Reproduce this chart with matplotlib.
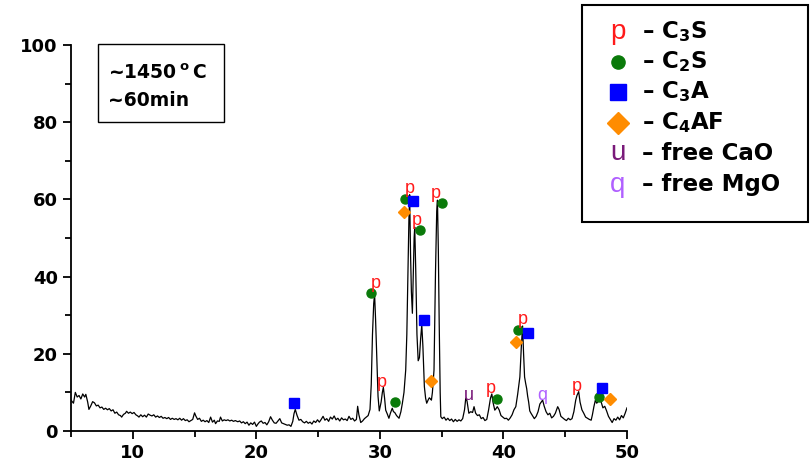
import matplotlib
matplotlib.use("Agg")
import matplotlib.pyplot as plt
from matplotlib.patches import Rectangle
from matplotlib.lines import Line2D
from matplotlib.ticker import MultipleLocator

plt.rcParams['font.family'] = ['DejaVu Sans']
plt.rcParams['mathtext.fontset'] = 'custom'
plt.rcParams['mathtext.rm'] = 'DejaVu Sans:bold'
plt.rcParams['mathtext.it'] = 'DejaVu Sans:bold'
plt.rcParams['mathtext.bf'] = 'DejaVu Sans:bold'

# --- XRD pattern (2-theta, intensity) ---
two_theta = [
    5.0, 5.2, 5.35, 5.5, 5.65, 5.8, 5.95, 6.1, 6.2, 6.35, 6.45, 6.6, 6.75, 6.9,
    7.05, 7.2, 7.35, 7.5, 7.65, 7.8, 7.95, 8.1, 8.25, 8.4, 8.55, 8.7, 8.85, 9.0,
    9.1, 9.25, 9.4, 9.5, 9.65, 9.8, 9.95, 10.1, 10.25, 10.4, 10.5, 10.65, 10.8,
    10.95, 11.1, 11.25, 11.4, 11.55, 11.7, 11.85, 12.0, 12.15, 12.3, 12.45, 12.6,
    12.75, 12.9, 13.05, 13.2, 13.35, 13.5, 13.65, 13.8, 13.95, 14.1, 14.25, 14.4,
    14.55, 14.7, 14.85, 15.0, 15.1, 15.25, 15.4, 15.55, 15.7, 15.85, 16.0, 16.15,
    16.3, 16.45, 16.6, 16.7, 16.85, 17.0, 17.1, 17.25, 17.4, 17.55, 17.7, 17.85,
    18.0, 18.15, 18.3, 18.5, 18.65, 18.8, 18.95, 19.1, 19.25, 19.4, 19.55, 19.7,
    19.85, 20.0, 20.1, 20.25, 20.4, 20.55, 20.7, 20.85, 21.0, 21.15, 21.3, 21.45,
    21.6, 21.75, 21.9, 22.05, 22.2, 22.35, 22.5, 22.65, 22.8, 22.95, 23.05, 23.15,
    23.3, 23.45, 23.6, 23.75, 23.9, 24.05, 24.2, 24.35, 24.5, 24.65, 24.8, 24.95,
    25.1, 25.25, 25.4, 25.55, 25.7, 25.85, 26.0, 26.15, 26.3, 26.45, 26.6, 26.75,
    26.9, 27.05, 27.2, 27.35, 27.5, 27.65, 27.8, 27.95, 28.1, 28.2, 28.3, 28.45,
    28.6, 28.75, 28.9, 29.05, 29.2, 29.3, 29.4, 29.5, 29.57, 29.65, 29.75, 29.85,
    29.95, 30.1, 30.2, 30.28, 30.38, 30.47, 30.6, 30.73, 30.85, 31.0, 31.1, 31.2,
    31.35, 31.55, 31.7, 31.82, 31.95, 32.09, 32.18, 32.27, 32.35, 32.41, 32.48,
    32.55, 32.63, 32.7, 32.77, 32.82, 32.9, 33.0, 33.1, 33.2, 33.3, 33.39, 33.48,
    33.6, 33.7, 33.79, 33.9, 34.0, 34.1, 34.17, 34.25, 34.38, 34.5, 34.6, 34.66,
    34.73, 34.8, 34.88, 34.93, 35.05, 35.2, 35.35, 35.5, 35.65, 35.8, 35.95, 36.1,
    36.25, 36.4, 36.55, 36.7, 36.85, 36.95, 37.05, 37.2, 37.35, 37.5, 37.62, 37.75,
    37.9, 38.05, 38.2, 38.35, 38.5, 38.65, 38.8, 38.95, 39.06, 39.15, 39.3, 39.4,
    39.5, 39.65, 39.8, 39.95, 40.1, 40.25, 40.4, 40.55, 40.7, 40.85, 41.0, 41.15,
    41.33, 41.45, 41.55, 41.63, 41.71, 41.8, 41.88, 41.96, 42.04, 42.13, 42.23,
    42.35, 42.5, 42.65, 42.8, 42.95, 43.08, 43.17, 43.3, 43.45, 43.6, 43.75, 43.9,
    44.05, 44.2, 44.39, 44.5, 44.65, 44.8, 44.95, 45.1, 45.25, 45.4, 45.55, 45.7,
    45.85, 45.95, 46.09, 46.2, 46.35, 46.5, 46.65, 46.8, 46.95, 47.1, 47.2, 47.32,
    47.44, 47.55, 47.7, 47.9, 48.05, 48.2, 48.35, 48.5, 48.65, 48.8, 48.95, 49.1,
    49.25, 49.4, 49.55, 49.7, 49.85, 50.0,
]
intensity = [
    8.0, 7.2, 10.0, 8.8, 9.2, 8.3, 9.6, 8.8, 9.5, 7.5, 5.6, 6.5, 7.6, 7.3,
    6.5, 6.7, 6.0, 6.2, 5.6, 5.9, 5.5, 5.8, 5.2, 5.5, 4.6, 4.9, 4.2, 4.0,
    3.6, 4.3, 4.6, 5.1, 4.6, 4.9, 4.5, 4.8, 4.2, 3.9, 3.6, 4.2, 3.7,
    4.1, 3.6, 4.4, 4.1, 3.9, 4.2, 3.6, 3.9, 3.5, 3.8, 3.3, 3.5,
    3.2, 3.5, 3.0, 3.3, 3.0, 3.2, 2.9, 3.3, 2.8, 3.2, 2.7, 2.9,
    2.4, 2.7, 3.0, 4.7, 3.9, 3.0, 3.3, 2.5, 2.8, 2.4, 2.7, 2.2,
    3.6, 2.3, 2.8, 1.9, 2.6, 2.5, 3.6, 2.6, 2.9, 2.7, 2.9, 2.6,
    2.8, 2.5, 2.7, 2.4, 2.6, 2.1, 2.4, 1.9, 2.3, 1.5, 2.1, 1.7,
    2.3, 1.2, 1.7, 2.3, 2.6, 2.0, 2.2, 1.6, 2.4, 3.7, 2.8, 2.1,
    2.0, 2.6, 3.2, 2.1, 1.9, 1.7, 1.5, 1.6, 1.2, 2.5, 4.5, 5.6,
    4.0, 2.8, 3.0, 2.4, 2.1, 2.5, 2.0, 2.3, 1.8, 2.6, 2.2, 2.9,
    2.3, 3.0, 3.8, 2.8, 3.2, 2.5, 3.6, 3.1, 3.9, 2.9, 3.3, 2.6,
    3.4, 2.9, 3.1, 2.7, 3.8, 3.0, 3.3, 2.6, 3.0, 6.4, 4.2, 2.2,
    2.6, 3.2, 3.6, 4.0, 5.6, 12.0, 25.0, 33.0, 35.5, 29.0, 19.0, 9.0,
    5.2, 7.5, 10.0, 11.3, 8.5, 5.4, 4.4, 3.3, 4.6, 5.9, 5.0, 4.8,
    4.0, 3.3, 5.0, 7.2, 10.0, 15.8, 25.0, 41.7, 55.0, 61.2, 46.0,
    36.0, 30.5, 40.0, 50.0, 52.8, 42.0, 25.0, 18.2, 19.0, 24.0, 27.5, 22.0,
    11.5, 8.5, 7.2, 8.0, 8.6, 8.3, 8.0, 10.0, 15.8, 41.0, 57.0, 59.8,
    47.0, 28.0, 10.0, 3.7, 3.2, 3.6, 2.8, 3.3, 2.7, 3.1, 2.4, 3.0,
    2.5, 2.9, 2.6, 3.2, 5.5, 8.5, 7.8, 4.6, 5.0, 4.8, 6.3, 4.6,
    4.0, 4.2, 3.2, 3.5, 2.7, 3.0, 5.5, 8.5, 9.6, 7.5, 5.4, 5.8,
    6.3, 5.5, 4.0, 3.6, 3.2, 3.3, 2.8, 3.4, 4.2, 5.5, 6.3, 9.5,
    14.0, 22.0, 27.2, 20.0, 14.0, 12.3, 11.0, 9.0, 7.5, 5.2, 4.6,
    4.0, 3.2, 3.8, 5.0, 7.0, 7.6, 8.0, 6.4, 5.0, 4.2, 4.6, 3.4,
    3.8, 4.6, 6.3, 5.6, 3.8, 3.4, 3.0, 2.7, 3.3, 2.9, 3.2, 5.0,
    8.0, 9.2, 10.2, 7.5, 5.5, 4.6, 3.6, 3.3, 3.0, 2.8, 4.2, 6.3,
    8.0, 7.2, 7.8, 7.6, 6.0, 6.4, 5.2, 3.8, 3.0, 2.2, 3.2, 2.8,
    3.6, 2.9, 4.0, 3.4, 4.6, 6.0,
]

# --- phase peak markers ---
c3s_x = [29.65, 30.12, 32.41, 32.98, 34.52, 38.98, 41.55, 45.96]
c3s_y = [38.3, 12.6, 62.9, 54.5, 61.4, 10.9, 28.9, 11.5]
c2s_x = [29.31, 31.2, 32.0, 33.25, 35.0, 39.47, 41.15, 47.77]
c2s_y = [35.8, 7.6, 60.1, 52.1, 59.1, 8.3, 26.2, 8.9]
c3a_x = [23.03, 32.71, 33.57, 42.0, 47.96]
c3a_y = [7.3, 59.6, 28.8, 25.5, 11.2]
c4af_x = [31.95, 34.12, 41.0, 48.63]
c4af_y = [56.7, 13.0, 23.1, 8.3]
cao_x = [37.22]
cao_y = [9.3]
mgo_x = [43.17]
mgo_y = [9.1]

legend_labels = ["– C$_3$S", "– C$_2$S", "– C$_3$A", "– C$_4$AF", "– free CaO", "– free MgO"]

RED = "#ff1a1a"
GREEN = "#0a7a0a"
BLUE = "#0000ff"
ORANGE = "#ff8c00"
PURPLE = "#7a1a7a"
VIOLET = "#b060ff"
LETTER_FONT = ["Liberation Sans", "DejaVu Sans"]

fig = plt.figure(figsize=(8.11, 4.67), dpi=100)
ax = fig.add_axes([71 / 811, 36 / 467, 556 / 811, 386 / 467])

ax.plot(two_theta, intensity, color="black", lw=0.9)

ax.plot(c2s_x, c2s_y, "o", color=GREEN, ms=6.5, ls="none")
ax.plot(c3a_x, c3a_y, "s", color=BLUE, ms=7, ls="none")
ax.plot(c4af_x, c4af_y, "D", color=ORANGE, ms=6.5, ls="none")
for x, y in zip(c3s_x, c3s_y):
    ax.text(x, y, "p", color=RED, fontsize=13, family=LETTER_FONT, ha="center", va="center")
for x, y in zip(cao_x, cao_y):
    ax.text(x, y, "u", color=PURPLE, fontsize=13, family=LETTER_FONT, ha="center", va="center")
for x, y in zip(mgo_x, mgo_y):
    ax.text(x, y, "q", color=VIOLET, fontsize=13, family=LETTER_FONT, ha="center", va="center")

ax.set_xlim(5, 50)
ax.set_ylim(0, 100)
ax.xaxis.set_major_locator(MultipleLocator(10))
ax.xaxis.set_minor_locator(MultipleLocator(5))
ax.yaxis.set_major_locator(MultipleLocator(20))
ax.yaxis.set_minor_locator(MultipleLocator(10))
for side in ["top", "right"]:
    ax.spines[side].set_visible(False)
for side in ["left", "bottom"]:
    ax.spines[side].set_linewidth(1.3)
ax.tick_params(which="major", direction="out", length=6, width=1.3, labelsize=13)
ax.tick_params(which="minor", direction="out", length=4, width=1.3)
ax.set_xticks([10, 20, 30, 40, 50])
ax.set_xticklabels(["10", "20", "30", "40", "50"], fontweight="bold")
ax.set_yticks([0, 20, 40, 60, 80, 100])
ax.set_yticklabels(["0", "20", "40", "60", "80", "100"], fontweight="bold")

# condition box
ax.add_patch(Rectangle((0.0486, 0.80), 0.2266, 0.203, transform=ax.transAxes,
                       fill=False, edgecolor="black", lw=1.0, clip_on=False))
ax.text(0.067, 0.927, "~1450$\\,^\\mathrm{o}\\,$C", transform=ax.transAxes, fontsize=13.5,
        fontweight="bold", va="center", ha="left")
ax.text(0.067, 0.857, "~60min", transform=ax.transAxes, fontsize=13.5,
        fontweight="bold", va="center", ha="left")

# legend box drawn in figure coordinates
fig.patches.append(Rectangle((582 / 811, 1 - 222 / 467), 226 / 811, 217 / 467,
                             transform=fig.transFigure, fill=False,
                             edgecolor="black", lw=1.5))
row_y = [32, 62, 92, 123, 153, 185]
sym_x = 618 / 811
fig.text(sym_x, 1 - row_y[0] / 467, "p", color=RED, fontsize=20, family=LETTER_FONT,
         ha="center", va="center")
fig.add_artist(Line2D([sym_x], [1 - row_y[1] / 467], marker="o", color=GREEN, ms=9.5,
                      transform=fig.transFigure))
fig.add_artist(Line2D([sym_x], [1 - row_y[2] / 467], marker="s", color=BLUE, ms=11,
                      transform=fig.transFigure))
fig.add_artist(Line2D([sym_x], [1 - row_y[3] / 467], marker="D", color=ORANGE, ms=11,
                      transform=fig.transFigure))
fig.text(sym_x, 1 - row_y[4] / 467, "u", color=PURPLE, fontsize=20, family=LETTER_FONT,
         ha="center", va="center")
fig.text(sym_x, 1 - row_y[5] / 467, "q", color=VIOLET, fontsize=20, family=LETTER_FONT,
         ha="center", va="center")
for lab, py in zip(legend_labels, row_y):
    fig.text(642 / 811, 1 - py / 467, lab, fontsize=16.5, fontweight="bold",
             ha="left", va="center")

fig.savefig("out.png", dpi=100)
